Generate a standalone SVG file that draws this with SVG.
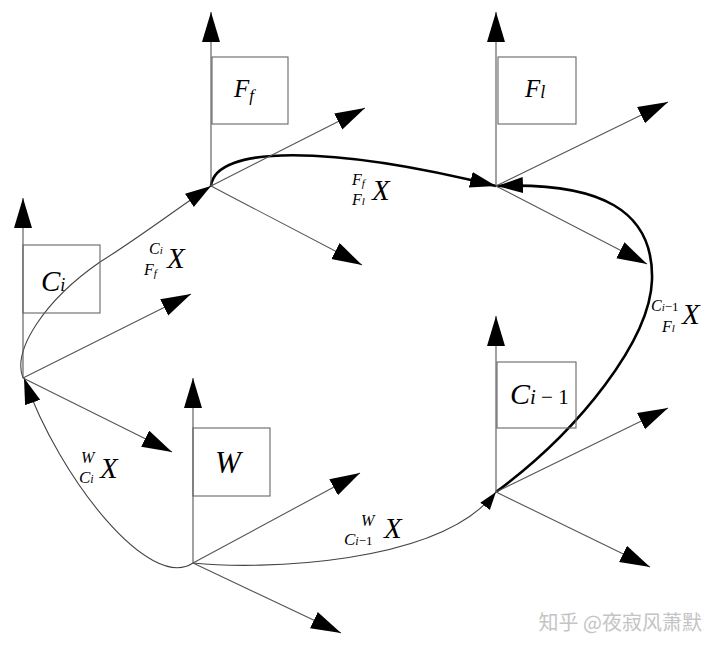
<svg xmlns="http://www.w3.org/2000/svg" width="720" height="651" viewBox="0 0 720 651">
<style>
.ax{stroke:#555;stroke-width:1.1;fill:none}
.bx{stroke:#666;stroke-width:1.1;fill:none}
.thin{stroke:#444;stroke-width:1.1;fill:none}
.thick{stroke:#000;stroke-width:2.6;fill:none}
text{font-family:"Liberation Serif","Times New Roman",serif;font-style:italic;fill:#000}
.wm{font-family:"Noto Sans CJK SC","Noto Sans",sans-serif;font-style:normal;fill:#c4c4c4;font-size:20px}
</style>
<defs>
<marker id="ah" markerUnits="userSpaceOnUse" markerWidth="32" markerHeight="20" refX="30" refY="9" orient="auto">
<path d="M0,0 L30,9 L0,18 z" fill="#000"/>
</marker>
<marker id="ahs" markerUnits="userSpaceOnUse" markerWidth="28" markerHeight="20" refX="26" refY="8" orient="auto">
<path d="M0,0 L26,8 L0,16 z" fill="#000"/>
</marker>
<marker id="ahm" markerUnits="userSpaceOnUse" markerWidth="20" markerHeight="16" refX="18" refY="6" orient="auto">
<path d="M0,0 L18,6 L0,12 z" fill="#000"/>
</marker>
</defs>

<g id="connectors">
<path class="thin" d="M23,378 C12,350 45,300 100,262 C140,237 175,210 211,186" marker-end="url(#ahs)"/>
<path class="thin" d="M193,563 C150,592 60,480 24,378" marker-end="url(#ahs)"/>
<path class="thin" d="M193,563 C260,570 440,565 496,492" marker-end="url(#ahm)"/>
<path class="thick" d="M211,186 C215,145 330,145 496,186" marker-end="url(#ahs)"/>
<path class="thick" d="M496,492 C580,430 650,340 652,280 C654,210 600,182 497,186" marker-end="url(#ahs)"/>
</g>

<g id="frame-Ff">
<line class="ax" x1="211" y1="186" x2="211" y2="12" marker-end="url(#ah)"/>
<line class="ax" x1="211" y1="186" x2="365" y2="108" marker-end="url(#ah)"/>
<line class="ax" x1="211" y1="186" x2="362" y2="265" marker-end="url(#ah)"/>
<rect class="bx" x="212" y="57" width="76" height="67"/>
<text x="234" y="97" font-size="25">F<tspan font-size="17" dy="4">f</tspan></text>
</g>

<g id="frame-Fl">
<line class="ax" x1="496" y1="186" x2="496" y2="12" marker-end="url(#ah)"/>
<line class="ax" x1="496" y1="186" x2="668" y2="102" marker-end="url(#ah)"/>
<line class="ax" x1="496" y1="186" x2="647" y2="264" marker-end="url(#ah)"/>
<rect class="bx" x="498" y="57" width="78" height="67"/>
<text x="525" y="97" font-size="25">F<tspan font-size="18" dy="1">l</tspan></text>
</g>

<g id="frame-Ci">
<line class="ax" x1="23" y1="378" x2="23" y2="198" marker-end="url(#ah)"/>
<line class="ax" x1="23" y1="378" x2="191" y2="294" marker-end="url(#ah)"/>
<line class="ax" x1="23" y1="378" x2="172" y2="452" marker-end="url(#ah)"/>
<rect class="bx" x="23" y="245" width="77" height="68"/>
<text x="41" y="291" font-size="29">C<tspan font-size="18">i</tspan></text>
</g>

<g id="frame-W">
<line class="ax" x1="193" y1="563" x2="193" y2="378" marker-end="url(#ah)"/>
<line class="ax" x1="193" y1="563" x2="360" y2="473" marker-end="url(#ah)"/>
<line class="ax" x1="193" y1="563" x2="341" y2="633" marker-end="url(#ah)"/>
<rect class="bx" x="193" y="428" width="77" height="68"/>
<text x="215" y="473" font-size="31">W</text>
</g>

<g id="frame-Ci-1">
<line class="ax" x1="496" y1="492" x2="496" y2="316" marker-end="url(#ah)"/>
<line class="ax" x1="496" y1="492" x2="668" y2="408" marker-end="url(#ah)"/>
<line class="ax" x1="496" y1="492" x2="650" y2="567" marker-end="url(#ah)"/>
<rect class="bx" x="497" y="362" width="79" height="66"/>
<text x="510" y="404" font-size="30">C<tspan font-size="21">i</tspan><tspan font-size="21" font-style="normal"> − 1</tspan></text>
</g>

<g id="labels">
<text x="149" y="254" font-size="16">C<tspan font-size="11">i</tspan></text>
<text x="144" y="275" font-size="16">F<tspan font-size="11" dy="2">f</tspan></text>
<text x="167" y="268" font-size="29">X</text>

<text x="352" y="185" font-size="16">F<tspan font-size="11" dy="2">f</tspan></text>
<text x="352" y="205" font-size="16">F<tspan font-size="11">l</tspan></text>
<text x="372" y="200" font-size="29">X</text>

<text x="651" y="311" font-size="16">C<tspan font-size="11">i</tspan><tspan font-size="13" font-style="normal">−1</tspan></text>
<text x="662" y="332" font-size="16">F<tspan font-size="11">l</tspan></text>
<text x="682" y="324" font-size="29">X</text>

<text x="81" y="463" font-size="16">W</text>
<text x="79" y="483" font-size="17">C<tspan font-size="12">i</tspan></text>
<text x="100" y="478" font-size="29">X</text>

<text x="361" y="526" font-size="16">W</text>
<text x="344" y="545" font-size="17">C<tspan font-size="12">i</tspan><tspan font-size="13" font-style="normal">−1</tspan></text>
<text x="384" y="538" font-size="29">X</text>
</g>

<text class="wm" x="702" y="630" text-anchor="end">知乎 @夜寂风萧默</text>
</svg>
